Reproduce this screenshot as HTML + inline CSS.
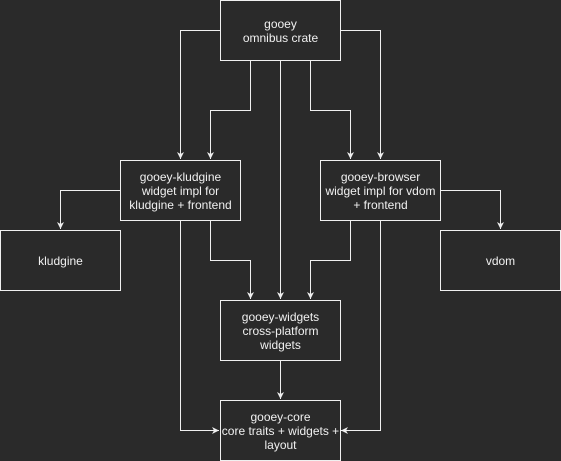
<!DOCTYPE html>
<html><head><style>
body{margin:0;background:#2a2a2a;}
svg{display:block}
text{font-family:"Liberation Sans",Arial,sans-serif;font-size:12px;fill:#f0f0f0;text-anchor:middle}
</style></head><body>
<svg width="561" height="461" viewBox="0 0 561 461">
<rect width="561" height="461" fill="#2a2a2a"/>
<defs><marker id="a" markerWidth="8" markerHeight="8" refX="7" refY="4" orient="auto" markerUnits="userSpaceOnUse"><path d="M0,0.5 L7,4 L0,7.5 L2,4 Z" fill="#f0f0f0"/></marker></defs>
<g fill="none" stroke="#f0f0f0" stroke-width="1" marker-end="url(#a)">
<path d="M220.5,30.5H180.5V159"/>
<path d="M250.5,60V110.5H210.5V159"/>
<path d="M280.5,60V299"/>
<path d="M310.5,60V110.5H350.5V159"/>
<path d="M340,30.5H380.5V159"/>
<path d="M120,190.5H60.5V229"/>
<path d="M440,190.5H500.5V229"/>
<path d="M210.5,220V260.5H250.5V299"/>
<path d="M350.5,220V260.5H310.5V299"/>
<path d="M180.5,220V430.5H219"/>
<path d="M380.5,220V430.5H341"/>
<path d="M280.5,360V399"/>
</g>
<g fill="#2a2a2a" stroke="#f0f0f0" stroke-width="1">
<rect x="220.5" y="0.5" width="120" height="60"/>
<rect x="120.5" y="160.5" width="120" height="60"/>
<rect x="320.5" y="160.5" width="120" height="60"/>
<rect x="0.5" y="230.5" width="120" height="60"/>
<rect x="440.5" y="230.5" width="120" height="60"/>
<rect x="220.5" y="300.5" width="120" height="60"/>
<rect x="220.5" y="400.5" width="120" height="60"/>
</g>
<text x="280.5" y="28">gooey</text><text x="280.5" y="42">omnibus crate</text>
<text x="180.5" y="181">gooey-kludgine</text><text x="180.5" y="195">widget impl for</text><text x="180.5" y="209">kludgine + frontend</text>
<text x="380.5" y="181">gooey-browser</text><text x="380.5" y="195">widget impl for vdom</text><text x="380.5" y="209">+ frontend</text>
<text x="60.5" y="265">kludgine</text>
<text x="500.5" y="265">vdom</text>
<text x="280.5" y="321">gooey-widgets</text><text x="280.5" y="335">cross-platform</text><text x="280.5" y="349">widgets</text>
<text x="280.5" y="421">gooey-core</text><text x="280.5" y="435">core traits + widgets +</text><text x="280.5" y="449">layout</text>
</svg>
</body></html>
